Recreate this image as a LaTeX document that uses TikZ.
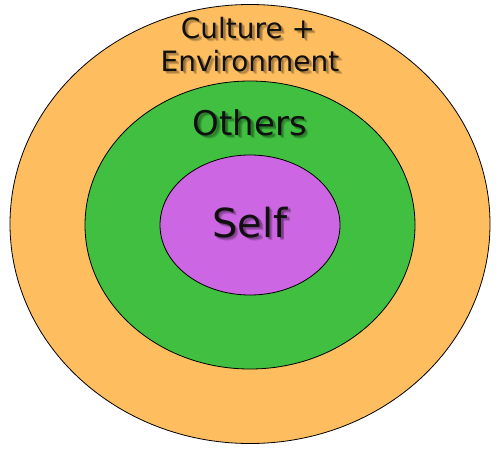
\documentclass[tikz,border=0pt]{standalone}
\usepackage{fontspec}
\setmainfont{DejaVu Sans}
\definecolor{outerc}{HTML}{FEBE60}
\definecolor{midc}{HTML}{40BF40}
\definecolor{innerc}{HTML}{CC66E2}
\definecolor{txtc}{HTML}{101010}
\begin{document}
\begin{tikzpicture}[x=1pt,y=-1pt,
  ring/.style={draw=black, line width=0.8pt},
  lbl/.style={anchor=base, inner sep=0pt, text=txtc},
  shd/.style={anchor=base, inner sep=0pt, text=black, opacity=0.16}]
\useasboundingbox (0,0) rectangle (500,450);
\fill[white] (0,0) rectangle (500,450);
\draw[ring, fill=outerc] (250,224) ellipse [x radius=240, y radius=219.5];
\draw[ring, fill=midc] (250,225) ellipse [x radius=165, y radius=144];
\draw[ring, fill=innerc] (250,225) ellipse [x radius=90, y radius=70];
% soft drop shadows
\foreach \d in {1.5,2.5,3.3}{
  \node[shd, font=\fontsize{28}{28}\selectfont] at (248+\d,38+\d) {Culture +};
  \node[shd, font=\fontsize{28}{28}\selectfont] at (250+\d,71+\d) {Environment};
  \node[shd, font=\fontsize{34}{34}\selectfont] at (250+\d,135+\d) {Others};
  \node[shd, font=\fontsize{40}{40}\selectfont] at (250+\d,237+\d) {Self};
}
\node[lbl, font=\fontsize{28}{28}\selectfont] (culture) at (248,38) {Culture +};
\node[lbl, font=\fontsize{28}{28}\selectfont] (env) at (250,71) {Environment};
\node[lbl, font=\fontsize{34}{34}\selectfont] (others) at (250,135) {Others};
\node[lbl, font=\fontsize{40}{40}\selectfont] (self) at (250,237) {Self};
\end{tikzpicture}
\end{document}
